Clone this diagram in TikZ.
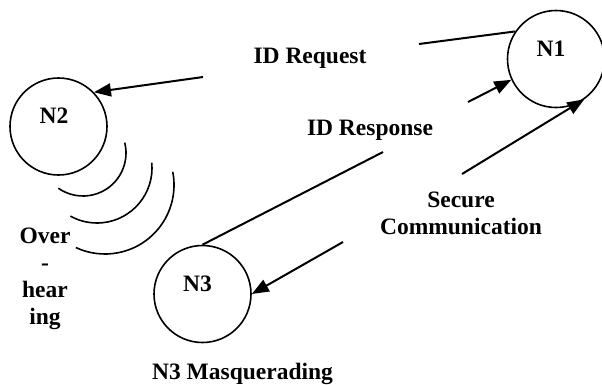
\documentclass[tikz,border=0pt]{standalone}
\usepackage{fontspec}
\setmainfont{Liberation Serif}
\usetikzlibrary{arrows.meta}
\begin{document}
\begin{tikzpicture}[x=1pt,y=-1pt,
  nodecircle/.style={draw,circle,line width=1.6pt,minimum size=97pt,inner sep=0pt},
  txt/.style={inner sep=0pt,anchor=base,font=\fontsize{23.5}{27}\selectfont\bfseries,align=center},
  link/.style={line width=2pt},
  arrowlink/.style={link,-{Triangle[length=17pt,width=13pt]}},
  wave/.style={line width=1.6pt}]
\useasboundingbox (0,0) rectangle (602,384);

% the three nodes
\node[nodecircle] (n1) at (556,59) {};
\node[nodecircle] (n2) at (58.5,126.5) {};
\node[nodecircle] (n3) at (202.5,294) {};
\node[txt] (n1t) at (551,56) {N1};
\node[txt] (n2t) at (54,123) {N2};
\node[txt] (n3t) at (197.5,291) {N3};

% labels (a multi-line node sits on the baseline of its last line)
\node[txt] (req) at (310,63) {ID Request};
\node[txt] (resp) at (370,135) {ID Response};
\node[txt] (sec) at (461,234) {Secure\\Communication};
\node[txt] (masq) at (242.5,379) {N3 Masquerading};
\node[txt] (over) at (45,324) {Over\\-\\hear\\ing};

% break points where the connectors pass their labels
\coordinate (rqA) at (419,44);
\coordinate (rqB) at (203,77);
\coordinate (rsA) at (383,152);
\coordinate (rsB) at (468,102);
\coordinate (scA) at (462,174);
\coordinate (scB) at (343,242);

% ID request: N1 -> N2
\draw[link] (rqA) -- (n1.146);
\draw[arrowlink] (rqB) -- (n2.44);
% ID response: N3 -> N1
\draw[link] (n3.90) -- (rsA);
\draw[arrowlink] (rsB) -- (n1.205);
% secure communication between N1 and N3
\draw[arrowlink] (scA) -- (n1.305);
\draw[arrowlink] (scB) -- (n3.0);

% overhearing waves below N2
\draw[wave] ([shift={(83,153)}]-14:43) arc[start angle=-14,end angle=125,radius=43];
\draw[wave] ([shift={(97,168)}]-5.5:55) arc[start angle=-5.5,end angle=119,radius=55];
\draw[wave] ([shift={(105,185)}]-11:69) arc[start angle=-11,end angle=115,radius=69];
\end{tikzpicture}
\end{document}
